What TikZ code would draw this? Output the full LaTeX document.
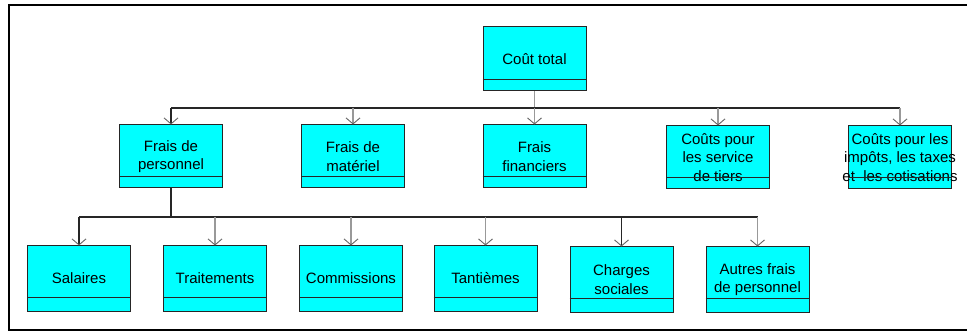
\documentclass[tikz,border=0pt]{standalone}
\usepackage{fontspec}
\setmainfont{Liberation Sans}
\usetikzlibrary{arrows.meta}
\definecolor{boxcyan}{HTML}{00FFFF}
\definecolor{lgrey}{HTML}{999999}
\definecolor{dgrey}{HTML}{666666}
\newcommand{\zw}[1]{\makebox[0pt][c]{#1}}
\begin{document}
\begin{tikzpicture}[x=1pt,y=-1pt,
  box/.style={draw=black!85, line width=1pt, fill=boxcyan, inner sep=0pt,
    minimum width=103pt, align=center,
    font=\fontsize{15}{18.5}\selectfont},
  lvltwo/.style={box, minimum height=63pt},
  lvlthree/.style={box, minimum height=65pt},
  link/.style={line width=1.1pt, draw=black!85},
  glink/.style={line width=1.6pt, draw=lgrey},
  arr/.style={-{Straight Barb[length=6pt,width=14pt,line width=0.9pt,color=dgrey]}},
]
\useasboundingbox (0,0) rectangle (967,331);
% frame
\draw[line width=2.6pt] (967,5) -- (9,5) -- (9,330) -- (967,330);

% level 1
\node[box, minimum height=64pt] (total) at (534.5,59) {Coût total};
% level 2
\node[lvltwo] (fp) at (171,156.5) {Frais de\\personnel};
\node[lvltwo] (fm) at (353,156.5) {Frais de\\matériel};
\node[lvltwo] (ff) at (534.5,156.5) {Frais\\financiers};
\node[lvltwo] (cs) at (718,157.5) {Coûts pour\\les service\\de tiers};
\node[lvltwo] (ci) at (900,157.5) {\zw{Coûts pour les}\\\zw{impôts, les taxes}\\\zw{et~ les cotisations}};
% level 3
\node[lvlthree] (sal) at (79,278.5) {Salaires};
\node[lvlthree] (tra) at (215,278.5) {Traitements};
\node[lvlthree] (com) at (351,278.5) {Commissions};
\node[lvlthree] (tan) at (485.5,278.5) {Tantièmes};
\node[lvlthree] (cha) at (621.5,279.5) {Charges\\sociales};
\node[lvlthree] (aut) at (757.5,279.5) {Autres frais\\de personnel};

% dividers
\foreach \n in {total,fp,fm,ff,cs,ci}
  \draw[line width=1pt, black!85] ([yshift=12pt]\n.south west) -- ([yshift=12pt]\n.south east);
\foreach \n in {sal,tra,com,tan,cha,aut}
  \draw[line width=1pt, black!85] ([yshift=14pt]\n.south west) -- ([yshift=14pt]\n.south east);

% connectors level 1 -> 2
\coordinate (h1) at (0,108);
\draw[glink] (total.south) -- (total.south |- h1);
\draw[link] (fp.north |- h1) -- (ci.north |- h1);
\draw[link,arr] (fp.north |- h1) -- (fp.north);
\foreach \n in {fm,ff,cs,ci}
  \draw[glink,arr] (\n.north |- h1) -- (\n.north);

% connectors level 2 -> 3
\coordinate (h2) at (0,217);
\draw[link] (fp.south) -- (fp.south |- h2);
\draw[link] (sal.north |- h2) -- (aut.north |- h2);
\draw[link,arr] (sal.north |- h2) -- (sal.north);
\draw[link,arr] (cha.north |- h2) -- (cha.north);
\foreach \n in {tra,com,tan,aut}
  \draw[glink,arr] (\n.north |- h2) -- (\n.north);
\end{tikzpicture}
\end{document}
